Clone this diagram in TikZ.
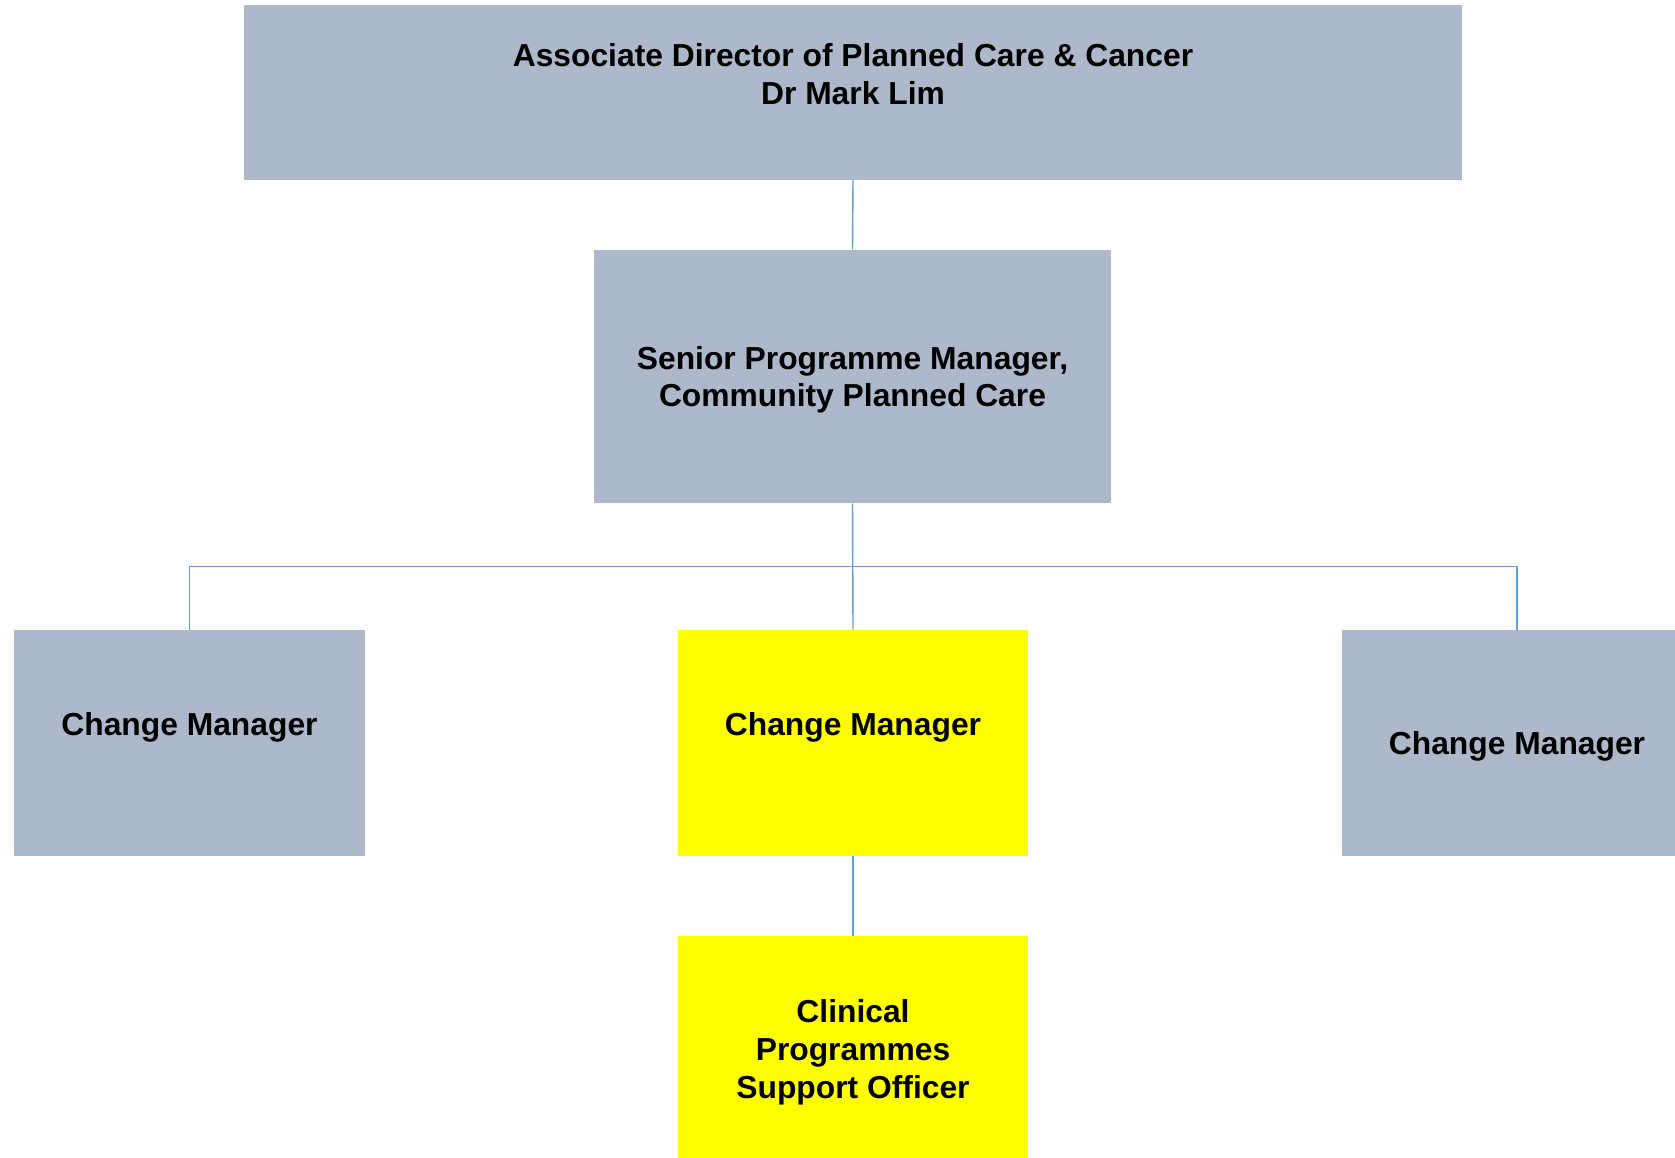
\documentclass[tikz,border=0pt]{standalone}
\usepackage{fontspec}
\setmainfont{Liberation Sans}
\usepackage{xcolor}
\definecolor{boxgrey}{RGB}{173,184,202}
\definecolor{newyellow}{RGB}{255,255,0}
\definecolor{linkblue}{RGB}{100,158,214}
\tikzset{
	post/.style={rectangle, fill=boxgrey, align=center, inner sep=0pt, text depth=0pt,
		font=\fontsize{18.1pt}{21.6pt}\selectfont\bfseries},
	newpost/.style={post, fill=newyellow},
	link/.style={draw=linkblue, line width=0.8pt}
}

\begin{document}
\begin{tikzpicture}[x=0.02cm, y=-0.02cm]
				% Page and clip:
				\useasboundingbox (0, 0) rectangle (1675, 1158);
				\clip (0, 0) rectangle (1675, 1158);
				\fill[white] (0, 0) rectangle (1675, 1158);
				% Posts:
				\node[post, minimum width=24.38cm, minimum height=3.49cm](AD) at (853, 92.6){Associate Director of Planned Care \& Cancer\\Dr Mark Lim\\\mbox{}};
				\node[post, minimum width=10.34cm, minimum height=5.06cm](SPM) at (852.5, 376.5){Senior Programme Manager,\\Community Planned Care};
				\node[post, minimum width=7.02cm, minimum height=4.52cm](CM1) at (189.5, 743){Change Manager\\\mbox{}};
				\node[newpost, minimum width=7.02cm, minimum height=4.52cm](CM2) at (853, 743){Change Manager\\\mbox{}};
				\node[post, minimum width=7.02cm, minimum height=4.52cm](CM3) at (1517, 743){Change Manager};
				\node[newpost, minimum width=7.02cm, minimum height=4.52cm](CPS) at (853, 1049){Clinical\\Programmes\\Support Officer};
				% Connectors:
				\coordinate (bus) at (853, 566.7);
				\draw[link] (AD.south) -- (SPM.north);
				\draw[link] (SPM.south) -- (CM2.north);
				\draw[link] (CM1.north) |- (bus) -| (CM3.north);
				\draw[link] (CM2.south) -- (CPS.north);
			\end{tikzpicture}
\end{document}
